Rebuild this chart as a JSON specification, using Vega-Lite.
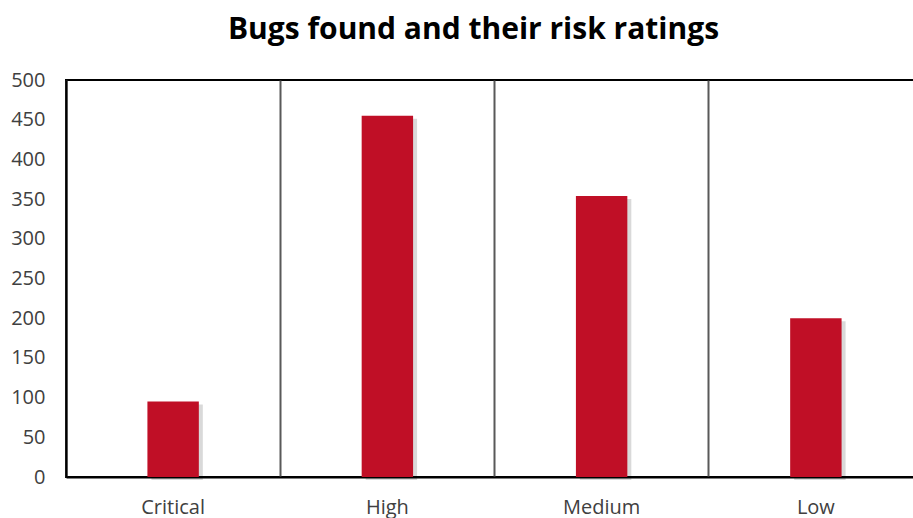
{
  "$schema": "https://vega.github.io/schema/vega-lite/v6.json",
  "autosize": "none",
  "padding": {"left": 66, "top": 80, "right": 0, "bottom": 41},
  "width": 857,
  "height": 397,
  "background": "white",
  "title": {
    "text": "Bugs found and their risk ratings",
    "font": "Open Sans",
    "fontSize": 30,
    "fontWeight": "bold",
    "color": "#000000",
    "anchor": "middle",
    "frame": "group",
    "dx": -21,
    "offset": 25
  },
  "config": {
    "view": {"stroke": "#000000", "strokeWidth": 2},
    "axis": {"labelFont": "Open Sans", "labelFontSize": 20, "labelColor": "#404040"}
  },
  "data": {
    "values": [
      {"risk": "Critical", "bugs": 95},
      {"risk": "High", "bugs": 455},
      {"risk": "Medium", "bugs": 354},
      {"risk": "Low", "bugs": 200}
    ]
  },
  "encoding": {
    "x": {
      "field": "risk",
      "type": "nominal",
      "sort": null,
      "scale": {"paddingInner": 0, "paddingOuter": 0},
      "axis": {
        "title": null,
        "labelAngle": 0,
        "ticks": false,
        "domainColor": "#000000",
        "domainWidth": 2,
        "labelPadding": 20,
        "grid": true,
        "gridColor": "#595959",
        "gridWidth": 2,
        "bandPosition": 0
      }
    },
    "y": {
      "field": "bugs",
      "type": "quantitative",
      "scale": {"domain": [0, 500]},
      "axis": {
        "title": null,
        "values": [0, 50, 100, 150, 200, 250, 300, 350, 400, 450, 500],
        "grid": false,
        "ticks": false,
        "domainColor": "#000000",
        "domainWidth": 2,
        "labelPadding": 21
      }
    }
  },
  "layer": [
    {
      "mark": {"type": "bar", "color": "#000000", "opacity": 0.15, "width": {"band": 0.24}, "xOffset": 4, "yOffset": 3}
    },
    {
      "mark": {"type": "bar", "color": "#C00F26", "width": {"band": 0.24}}
    }
  ]
}
